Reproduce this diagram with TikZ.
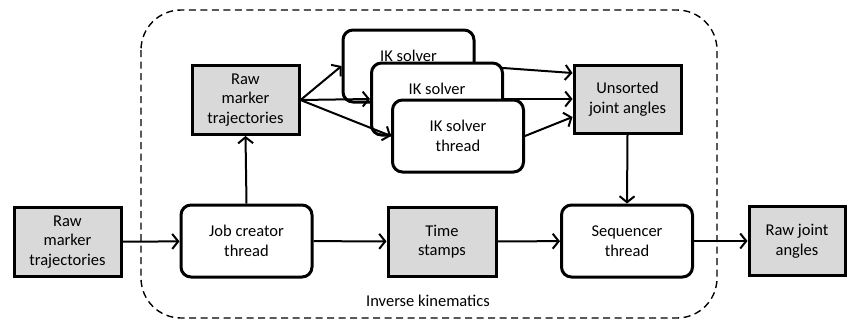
\documentclass[tikz,border=0pt]{standalone}
\usepackage{fontspec}
\setmainfont{Carlito}
\usetikzlibrary{arrows.meta}
\begin{document}
\begin{tikzpicture}[x=1pt, y=-1pt, >={Straight Barb[length=6pt,width=15pt]},
    font=\fontsize{16.5}{19.5}\selectfont,
    data/.style={draw, line width=3pt, fill=black!15, align=center, inner sep=0pt,
        minimum width=#1, minimum height=69pt},
    worker/.style={draw, line width=3pt, fill=white, rounded corners=10pt, align=center,
        inner sep=0pt, minimum width=131pt, minimum height=72pt},
    link/.style={->, line width=2pt}]
\useasboundingbox (0,0) rectangle (848,322);
\draw[line width=1.4pt, dash pattern=on 7pt off 4.5pt, rounded corners=40pt] (141,10) rectangle (717,318);
\node (ikname) at (428,301) {Inverse kinematics};
\node[data=107pt] (rawin) at (67.5,242) {Raw\\marker\\trajectories};
\node[worker] (jobcr) at (246.5,241) {Job creator\\thread};
\node[data=108pt] (stamps) at (442,241.5) {Time\\stamps};
\node[worker] (seq) at (627,241) {Sequencer\\thread};
\node[data=96pt] (rawout) at (797,241) {Raw joint\\angles};
\node[data=107pt] (rawmk) at (245.5,100) {Raw\\marker\\trajectories};
\node[data=107pt, minimum height=68pt] (unsorted) at (627.5,99) {Unsorted\\joint angles};
\node[worker] (iksolvA) at (408.5,66) {IK solver\\thread};
\draw[link] (iksolvA.east) -- ([yshift=26pt]unsorted.west);
\node[worker] (iksolvB) at (437,99) {IK solver\\thread};
\draw[link] (iksolvB.east) -- (unsorted.west);
\node[worker] (iksolvC) at (458,136) {IK solver\\thread};
\draw[link] (iksolvC.east) -- ([yshift=-18pt]unsorted.west);
\draw[link] (rawmk.east) -- (iksolvA.west);
\draw[link] (rawmk.east) -- (iksolvB.west);
\draw[link] (rawmk.east) -- (iksolvC.west);
\draw[link] (jobcr.north) -- (rawmk.south);
\draw[link] (unsorted.south) -- (seq.north);
\draw[link] (rawin) -- (jobcr);
\draw[link] (jobcr) -- (stamps);
\draw[link] (stamps) -- (seq);
\draw[link] (seq) -- (rawout);
\end{tikzpicture}
\end{document}
